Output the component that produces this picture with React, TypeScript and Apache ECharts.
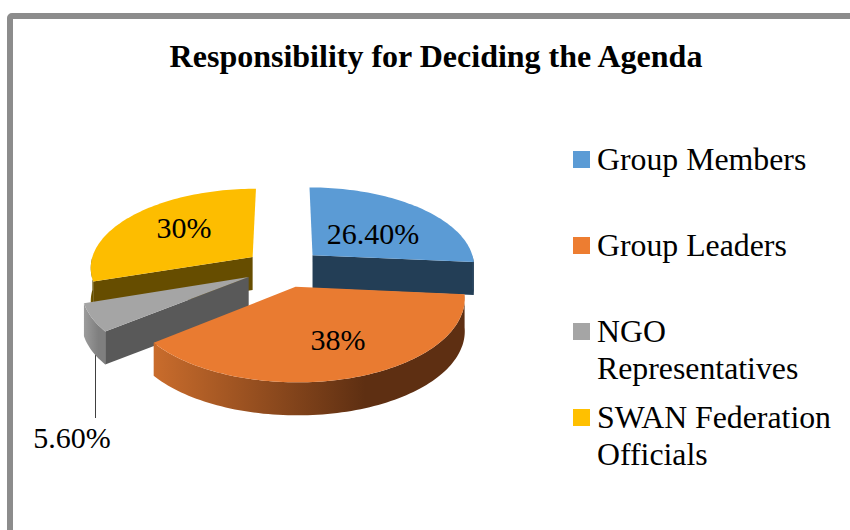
import React, { useEffect, useRef } from "react";
import * as echarts from "echarts";

// Chart content
const TITLE = "Responsibility for Deciding the Agenda";
const CATEGORIES = ["Group Members", "Group Leaders", "NGO\nRepresentatives", "SWAN Federation\nOfficials"];
const VALUES = [26.4, 38, 5.6, 30];
const VALUE_LABELS = ["26.40%", "38%", "5.60%", "30%"];

// Slice palette: top face, cut face, outer rim start and end
const TOP_COLORS = ["#5b9bd5", "#e97b31", "#a5a5a5", "#fdbd00"];
const LEGEND_COLORS = ["#5b9bd5", "#ed7d31", "#a5a5a5", "#ffc000"];
const CUT_COLORS = ["#233e56", "#5f3013", "#595959", "#664d00"];
const RIM_FROM = ["#2a4a68", "#c96c2c", "#9c9c9c", "#7a5c00"];
const RIM_TO = ["#223c54", "#5e2f12", "#7f7f7f", "#665000"];
const PAINT_ORDER = [1, 3, 2, 0];

// Perspective ground plane of the pie
const CX = 284;
const CY = 268;
const RX = 163;
const RY = 79;
const PERSPECTIVE = 0.121;
const EXPLODE = 0.242;
const DEPTH = 33;
const FONT = "'Liberation Serif', 'Times New Roman', serif";

const LABEL_POS = [[373, 233], [338, 339], [72, 437], [184, 227]];
const LEGEND_ROWS = [159.5, 245.5, 331.5, 417.5];
const LINE_HEIGHT = 37;

const rad = (deg: number) => (deg * Math.PI) / 180;

function project(u: number, v: number, drop = 0): number[] {
  const w = 1 - PERSPECTIVE * v;
  return [CX + (RX * u) / w, CY + (RY * v) / w + drop];
}

function arcPoints(from: number, to: number, ox: number, oy: number, drop = 0): number[][] {
  const steps = Math.max(2, Math.ceil(Math.abs(to - from) / 1.5));
  const pts: number[][] = [];
  for (let i = 0; i <= steps; i++) {
    const a = rad(from + ((to - from) * i) / steps);
    pts.push(project(ox + Math.sin(a), oy - Math.cos(a), drop));
  }
  return pts;
}

function renderSlice(params: any) {
  const i = params.dataIndex;
  const total = VALUES.reduce((s, x) => s + x, 0);
  const before = VALUES.slice(0, i).reduce((s, x) => s + x, 0);
  const start = (before / total) * 360;
  const end = ((before + VALUES[i]) / total) * 360;
  const mid = rad((start + end) / 2);
  const ox = EXPLODE * Math.sin(mid);
  const oy = -EXPLODE * Math.cos(mid);
  const apex = project(ox, oy);
  const apexLow = project(ox, oy, DEPTH);
  const base = PAINT_ORDER[i] * 10;
  const children: any[] = [];

  const cutFace = (angle: number, z: number) => {
    const a = rad(angle);
    const outer = project(ox + Math.sin(a), oy - Math.cos(a));
    const outerLow = project(ox + Math.sin(a), oy - Math.cos(a), DEPTH);
    children.push({
      type: "polygon",
      z2: base + z,
      shape: { points: [apex, outer, outerLow, apexLow] },
      style: { fill: CUT_COLORS[i] },
    });
  };

  // Only the faces turned towards the viewer are drawn
  if (Math.sin(rad(start)) < -0.01) cutFace(start, 1);
  if (Math.sin(rad(end)) > 0.01) cutFace(end, 1);

  const rimFrom = Math.max(start, 90);
  const rimTo = Math.min(end, 270);
  if (rimTo > rimFrom) {
    const upper = arcPoints(rimFrom, rimTo, ox, oy);
    const lower = arcPoints(rimFrom, rimTo, ox, oy, DEPTH).reverse();
    children.push({
      type: "polygon",
      z2: base + 2,
      shape: { points: upper.concat(lower) },
      style: {
        fill: new echarts.graphic.LinearGradient(0, 0, 1, 0, [
          { offset: 0, color: RIM_FROM[i] },
          { offset: 0.68, color: RIM_TO[i] },
          { offset: 1, color: RIM_TO[i] },
        ]),
      },
    });
  }

  children.push({
    type: "polygon",
    z2: base + 3,
    shape: { points: [apex].concat(arcPoints(start, end, ox, oy)) },
    style: { fill: TOP_COLORS[i] },
  });

  return { type: "group", children };
}

function buildGraphic() {
  const elements: any[] = [
    {
      type: "rect",
      z: 0,
      shape: { x: 10, y: 16, width: 900, height: 600, r: 2 },
      style: { fill: "#ffffff", stroke: "#8c8c8c", lineWidth: 6 },
    },
    {
      type: "line",
      z: 1,
      shape: { x1: 95.5, y1: 352, x2: 95.5, y2: 418 },
      style: { stroke: "#404040", lineWidth: 1 },
    },
  ];
  VALUE_LABELS.forEach((text, i) => {
    elements.push({
      type: "text",
      z: 20,
      x: LABEL_POS[i][0],
      y: LABEL_POS[i][1],
      style: { text, fill: "#000000", font: `30px ${FONT}`, textAlign: "center", textVerticalAlign: "middle" },
    });
  });
  CATEGORIES.forEach((name, i) => {
    elements.push({
      type: "rect",
      z: 20,
      shape: { x: 573, y: Math.floor(LEGEND_ROWS[i]) - 8, width: 17, height: 17 },
      style: { fill: LEGEND_COLORS[i] },
    });
    name.split("\n").forEach((line, n) => {
      elements.push({
        type: "text",
        z: 20,
        x: 597,
        y: LEGEND_ROWS[i] + n * LINE_HEIGHT,
        style: { text: line, fill: "#000000", font: `31.8px ${FONT}`, textAlign: "left", textVerticalAlign: "middle" },
      });
    });
  });
  return elements;
}

export default function App() {
  const ref = useRef<HTMLDivElement>(null);

  useEffect(() => {
    document.body.style.margin = "0";
    const chart = echarts.init(ref.current!, null, { renderer: "svg" });
    chart.setOption({
      animation: false,
      backgroundColor: "#ffffff",
      title: {
        text: TITLE,
        left: 431,
        top: 35,
        textAlign: "center",
        textStyle: { fontFamily: FONT, fontWeight: "bold", fontSize: 32, color: "#000000" },
      },
      graphic: buildGraphic(),
      series: [
        {
          type: "custom",
          coordinateSystem: "none",
          silent: true,
          z: 5,
          renderItem: renderSlice,
          data: VALUES,
        },
      ],
    });
    return () => chart.dispose();
  }, []);

  return <div ref={ref} style={{ width: 850, height: 530 }} />;
}
